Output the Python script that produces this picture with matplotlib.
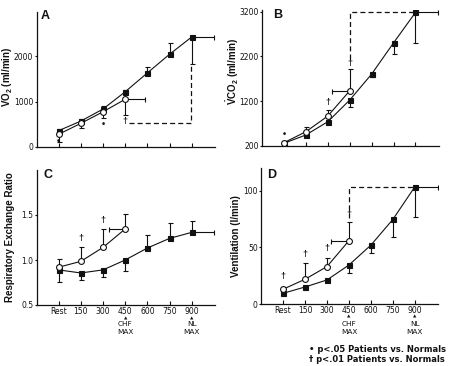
import matplotlib
matplotlib.use("Agg")
import matplotlib.pyplot as plt
import matplotlib.transforms as mtransforms
import numpy as np

plt.rcParams['font.family'] = ['Liberation Sans', 'DejaVu Sans']
plt.rcParams['mathtext.fontset'] = 'custom'
plt.rcParams['mathtext.rm'] = 'Liberation Sans'
plt.rcParams['mathtext.bf'] = 'Liberation Sans:bold'
plt.rcParams['mathtext.it'] = 'Liberation Sans:italic'

# ---------------- data ----------------
stages = ["Rest", "150", "300", "450", "600", "750", "900"]
max_marks = [(3, "CHF", "MAX"), (6, "NL", "MAX")]
x_norm = np.arange(7)
x_pat = np.arange(4)

# Panel A: VO2 (ml/min)
vo2_norm = [360, 570, 835, 1215, 1630, 2040, 2420]
vo2_norm_lo = [360, 570, 835, 1215, 1630, 2040, 1830]
vo2_norm_hi = [400, 620, 900, 1260, 1750, 2280, 2420]
vo2_pat = [280, 520, 775, 1050]
vo2_pat_lo = [100, 410, 630, 700]
vo2_pat_hi = [280, 520, 775, 1050]

# Panel B: VCO2 (ml/min)
vco2_norm = [254, 440, 737, 1222, 1804, 2504, 3185]
vco2_norm_lo = [254, 420, 690, 1072, 1740, 2245, 2490]
vco2_pat = [267, 513, 864, 1430]
vco2_pat_hi = [267, 625, 999, 1909]

# Panel C: Respiratory exchange ratio
rer_norm = [0.89, 0.856, 0.89, 1.0, 1.133, 1.24, 1.307]
rer_norm_lo = [0.76, 0.78, 0.81, 0.875, 1.133, 1.24, 1.307]
rer_norm_hi = [0.89, 0.856, 0.89, 1.0, 1.28, 1.41, 1.43]
rer_pat = [0.92, 0.985, 1.14, 1.345]
rer_pat_hi = [1.01, 1.15, 1.34, 1.51]

# Panel D: Ventilation (l/min)
ve_norm = [9.4, 15.0, 21.2, 34.4, 52.0, 74.7, 103.5]
ve_norm_lo = [9.4, 15.0, 21.2, 27.6, 44.7, 58.8, 77.0]
ve_pat = [13.0, 21.8, 33.0, 55.9]
ve_pat_hi = [15.3, 36.5, 40.9, 72.0]

# significance symbols (x position, y position, symbol)
sig_A = [(0, 110, "\u2022"), (2, 500, "\u2022"), (3, 560, "\u2020")]
sig_B = [(0, 440, "\u2022"), (2, 1170, "\u2020"), (3, 2050, "\u2020")]
sig_C = [(1, 1.24, "\u2020"), (2, 1.44, "\u2020")]
sig_D = [(0, 24, "\u2020"), (1, 44, "\u2020"), (2, 49, "\u2020"), (3, 79, "\u2020")]

INK = "#111111"
TICKFONT = ['Liberation Sans Narrow', 'DejaVu Sans']
W, H = 450, 366
fig = plt.figure(figsize=(4.5, 3.66), dpi=100)

def make_ax(l, r, b, t):
    ax = fig.add_axes([l / W, 1 - b / H, (r - l) / W, (b - t) / H])
    for s in ["top", "right"]:
        ax.spines[s].set_visible(False)
    for s in ["left", "bottom"]:
        ax.spines[s].set_linewidth(0.9)
        ax.spines[s].set_color(INK)
    ax.set_xlim(-1, 7.05)
    ax.set_xticks(x_norm)
    ax.tick_params(axis="x", direction="in", length=3, width=0.8, colors=INK, labelsize=5.5, pad=1.5)
    ax.tick_params(axis="y", direction="out", length=1.6, width=0.8, colors=INK, labelsize=5.5, pad=0.8)
    return ax

def style_ticklabels(ax):
    for lab in ax.get_xticklabels() + ax.get_yticklabels():
        lab.set_fontfamily(TICKFONT)

def max_notes(ax):
    trans = mtransforms.blended_transform_factory(ax.transData, ax.transAxes)
    for x, a, b in max_marks:
        ax.annotate("\u25B2", xy=(x, 0), xycoords=trans, xytext=(0, -13), textcoords="offset pixels",
                    ha="center", va="center", fontsize=3.2, color=INK, family=['DejaVu Sans'])
        ax.annotate(a, xy=(x, 0), xycoords=trans, xytext=(0, -19.5), textcoords="offset pixels",
                    ha="center", va="center", fontsize=5.3, color=INK, family=TICKFONT)
        ax.annotate(b, xy=(x, 0), xycoords=trans, xytext=(0, -27.5), textcoords="offset pixels",
                    ha="center", va="center", fontsize=5.3, color=INK, family=TICKFONT)

def series(ax, xs, ys, marker, face, ms):
    ax.plot(xs, ys, color=INK, lw=0.8, marker=marker, mfc=face, mec=INK, ms=ms, mew=0.8, zorder=3)

def ebar(ax, xs, ys, lo, hi):
    ys = np.asarray(ys, float)
    yerr = [ys - np.asarray(lo, float), np.asarray(hi, float) - ys]
    ax.errorbar(xs, ys, yerr=yerr, fmt="none", ecolor=INK, elinewidth=0.8, capsize=1.8, capthick=0.8, zorder=2)

def hbar(ax, x, y, xend):
    if xend > x:
        xerr = [[0], [xend - x]]
    else:
        xerr = [[x - xend], [0]]
    ax.errorbar([x], [y], xerr=xerr, fmt="none", ecolor=INK, elinewidth=0.8, capsize=1.8, capthick=0.8, zorder=2)

def sigs(ax, items):
    for x, y, s in items:
        ax.text(x, y, s, ha="center", va="center", fontsize=6.5, fontweight="bold", color=INK)

LABEL_KW = dict(fontsize=7, fontweight="bold", color=INK)
LETTER_KW = dict(fontsize=9, fontweight="bold", ha="center", va="center", color=INK)

# ---------- A ----------
axA = make_ax(36.5, 215, 147, 12)
axA.set_ylim(0, 2970)
axA.set_yticks([0, 1000, 2000])
axA.set_xticklabels([])
ebar(axA, x_norm, vo2_norm, vo2_norm_lo, vo2_norm_hi)
ebar(axA, x_pat, vo2_pat, vo2_pat_lo, vo2_pat_hi)
hbar(axA, 3, vo2_pat[3], 3.9)
hbar(axA, 6, vo2_norm[6], 7.0)
axA.plot([3.15, 5.95, 5.95], [520, 520, 1800], color=INK, lw=0.9, ls=(0, (4, 2.5)))
series(axA, x_norm, vo2_norm, "s", INK, 3.6)
series(axA, x_pat, vo2_pat, "o", "white", 4.2)
sigs(axA, sig_A)
axA.set_ylabel(r"$\mathbf{\dot{V}O_2}$ (ml/min)", **LABEL_KW)
axA.yaxis.set_label_coords(-0.118, 0.52)
style_ticklabels(axA)
fig.text(45 / W, 1 - 16 / H, "A", **LETTER_KW)

# ---------- B ----------
axB = make_ax(262, 438.5, 145.7, 10)
axB.set_ylim(200, 3240)
axB.set_yticks([200, 1200, 2200, 3200])
axB.set_xticklabels([])
ebar(axB, x_norm, vco2_norm, vco2_norm_lo, vco2_norm)
ebar(axB, x_pat, vco2_pat, vco2_pat, vco2_pat_hi)
hbar(axB, 3, vco2_pat[3], 2.2)
hbar(axB, 6, vco2_norm[6], 7.03)
axB.plot([3, 3, 6], [2150, 3190, 3190], color=INK, lw=0.9, ls=(0, (4, 2.5)))
series(axB, x_norm, vco2_norm, "s", INK, 3.6)
series(axB, x_pat, vco2_pat, "o", "white", 4.2)
sigs(axB, sig_B)
axB.set_ylabel(r"$\mathbf{\dot{V}CO_2}$ (ml/min)", **LABEL_KW)
axB.yaxis.set_label_coords(-0.121, 0.55)
style_ticklabels(axB)
fig.text(278 / W, 1 - 15 / H, "B", **LETTER_KW)

# ---------- C ----------
axC = make_ax(36.5, 215, 305, 170)
axC.set_ylim(0.5, 2.0)
axC.set_yticks([0.5, 1.0, 1.5])
axC.set_yticklabels(["0.5", "1.0", "1.5"])
axC.set_xticklabels(stages)
ebar(axC, x_norm, rer_norm, rer_norm_lo, rer_norm_hi)
ebar(axC, x_pat, rer_pat, rer_pat, rer_pat_hi)
hbar(axC, 3, rer_pat[3], 2.26)
hbar(axC, 6, rer_norm[6], 7.0)
series(axC, x_norm, rer_norm, "s", INK, 3.6)
series(axC, x_pat, rer_pat, "o", "white", 4.2)
sigs(axC, sig_C)
axC.set_ylabel("Respiratory Exchange Ratio", **LABEL_KW)
axC.yaxis.set_label_coords(-0.118, 0.5)
style_ticklabels(axC)
max_notes(axC)
fig.text(48 / W, 1 - 175 / H, "C", **LETTER_KW)

# ---------- D ----------
axD = make_ax(261, 438, 304, 168)
axD.set_ylim(0, 120)
axD.set_yticks([0, 50, 100])
axD.set_xticklabels(stages)
ebar(axD, x_norm, ve_norm, ve_norm_lo, ve_norm)
ebar(axD, x_pat, ve_pat, ve_pat, ve_pat_hi)
hbar(axD, 3, ve_pat[3], 2.2)
hbar(axD, 6, ve_norm[6], 7.05)
axD.plot([3, 3, 6], [76, 103, 103], color=INK, lw=0.9, ls=(0, (4, 2.5)))
series(axD, x_norm, ve_norm, "s", INK, 3.6)
series(axD, x_pat, ve_pat, "o", "white", 4.2)
sigs(axD, sig_D)
axD.set_ylabel("Ventilation (l/min)", **LABEL_KW)
axD.yaxis.set_label_coords(-0.113, 0.5)
style_ticklabels(axD)
max_notes(axD)
fig.text(272 / W, 1 - 175 / H, "D", **LETTER_KW)

# ---------- significance key ----------
KEY_KW = dict(fontsize=6, fontweight="bold", ha="left", va="center", color=INK, family=['DejaVu Sans'])
fig.text(309 / W, 1 - 350 / H, "\u2022 p<.05 Patients vs. Normals", **KEY_KW)
fig.text(309 / W, 1 - 360 / H, "\u2020 p<.01 Patients vs. Normals", **KEY_KW)

fig.savefig("out.png", dpi=100)
